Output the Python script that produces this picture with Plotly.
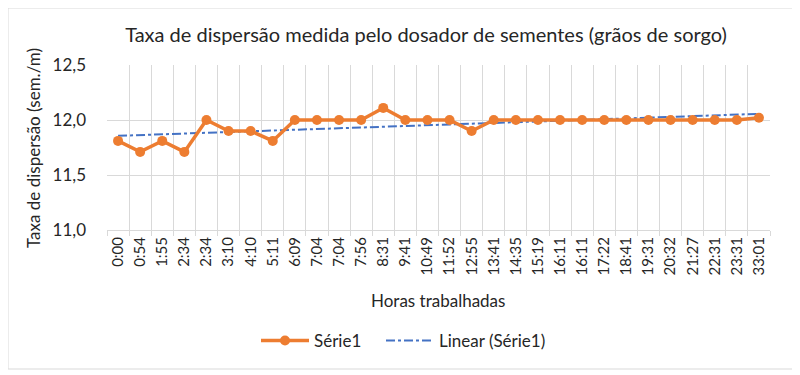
import numpy as np
import plotly.graph_objects as go

categories = ["0:00", "0:54", "1:55", "2:34", "2:34", "3:10", "4:10", "5:11", "6:09", "7:04",
              "7:04", "7:56", "8:31", "9:41", "10:49", "11:52", "12:55", "13:41", "14:35", "15:19",
              "16:11", "16:11", "17:22", "18:41", "19:31", "20:32", "21:27", "22:31", "23:31", "33:01"]
serie1 = [11.81, 11.71, 11.81, 11.71, 12.0, 11.9, 11.9, 11.81, 12.0, 12.0,
          12.0, 12.0, 12.11, 12.0, 12.0, 12.0, 11.9, 12.0, 12.0, 12.0,
          12.0, 12.0, 12.0, 12.0, 12.0, 12.0, 12.0, 12.0, 12.0, 12.02]
y_ticks = [11.0, 11.5, 12.0, 12.5]

x = np.arange(len(categories))
slope, intercept = np.polyfit(x, serie1, 1)
trend = slope * x + intercept

FONT = "Lato"
TXT = "#262626"
OFF = 8  # page body margin
fig = go.Figure()
fig.add_trace(go.Scatter(x=x, y=trend, mode="lines", name="Linear (Série1)", legend="legend2",
                         line=dict(color="#4472C4", width=2, dash="dashdot")))
fig.add_trace(go.Scatter(x=x, y=serie1, mode="lines+markers", name="Série1", legend="legend",
                         line=dict(color="#ED7D31", width=3.5),
                         marker=dict(color="#ED7D31", size=10)))

W, H = 800 - OFF, 375 - OFF
L, T, R = 107 - OFF, 65 - OFF, 30
pw, ph = W - L - R, 165
B = H - T - ph
def py(ry):  # reference page y -> paper y
    return (230 - ry) / ph
def px(rx):
    return (rx - 107) / pw

leg_common = dict(orientation="h", xanchor="left", y=py(341), yanchor="middle",
                  itemwidth=48, font=dict(size=17, color=TXT), bgcolor="rgba(0,0,0,0)")

fig.update_layout(
    width=W, height=H, margin=dict(l=L, r=R, t=T, b=B),
    paper_bgcolor="white", plot_bgcolor="white",
    separators=",.",
    font=dict(family=FONT, color=TXT, size=13),
    title=dict(text="Taxa de dispersão medida pelo dosador de sementes (grãos de sorgo)",
               x=(426 - OFF) / W, xanchor="center", y=1 - (35 - OFF) / H, yanchor="middle",
               font=dict(size=20, color=TXT)),
    showlegend=True,
    legend=dict(x=px(256), **leg_common),
    legend2=dict(x=px(381), **leg_common),
    xaxis=dict(range=[-0.5, len(categories) - 0.5], tickmode="array", tickvals=list(x),
               ticktext=categories, tickangle=-90, showgrid=False, zeroline=False,
               showline=True, linecolor="#d9d9d9", linewidth=1, ticks="",
               tickfont=dict(size=15, color=TXT),
               minor=dict(tickmode="array", tickvals=[i - 0.5 for i in range(len(categories) + 1)],
                          showgrid=True, gridcolor="#d9d9d9", gridwidth=1,
                          ticks="outside", ticklen=5, tickcolor="#d9d9d9")),
    yaxis=dict(range=[11.0, 12.5], tickmode="array", tickvals=y_ticks, tickformat=".1f",
               showgrid=True, gridcolor="#d9d9d9", gridwidth=1, zeroline=False,
               tickfont=dict(size=17, color=TXT), ticklabelstandoff=20),
    shapes=[dict(type="rect", xref="paper", yref="paper",
                 x0=px(OFF), x1=px(795),
                 y0=py(369), y1=py(OFF),
                 line=dict(color="#d9d9d9", width=1), layer="below")],
    annotations=[dict(text="Horas trabalhadas", xref="paper", yref="paper",
                      x=px(438), y=py(300), xanchor="center", yanchor="middle",
                      showarrow=False, font=dict(size=17, color=TXT)),
                 dict(text="Taxa de dispersão (sem./m)", xref="paper", yref="paper",
                      x=px(33), y=py(148), xanchor="center", yanchor="middle",
                      textangle=-90, showarrow=False, font=dict(size=17, color=TXT))],
)

fig.write_html("out.html")
